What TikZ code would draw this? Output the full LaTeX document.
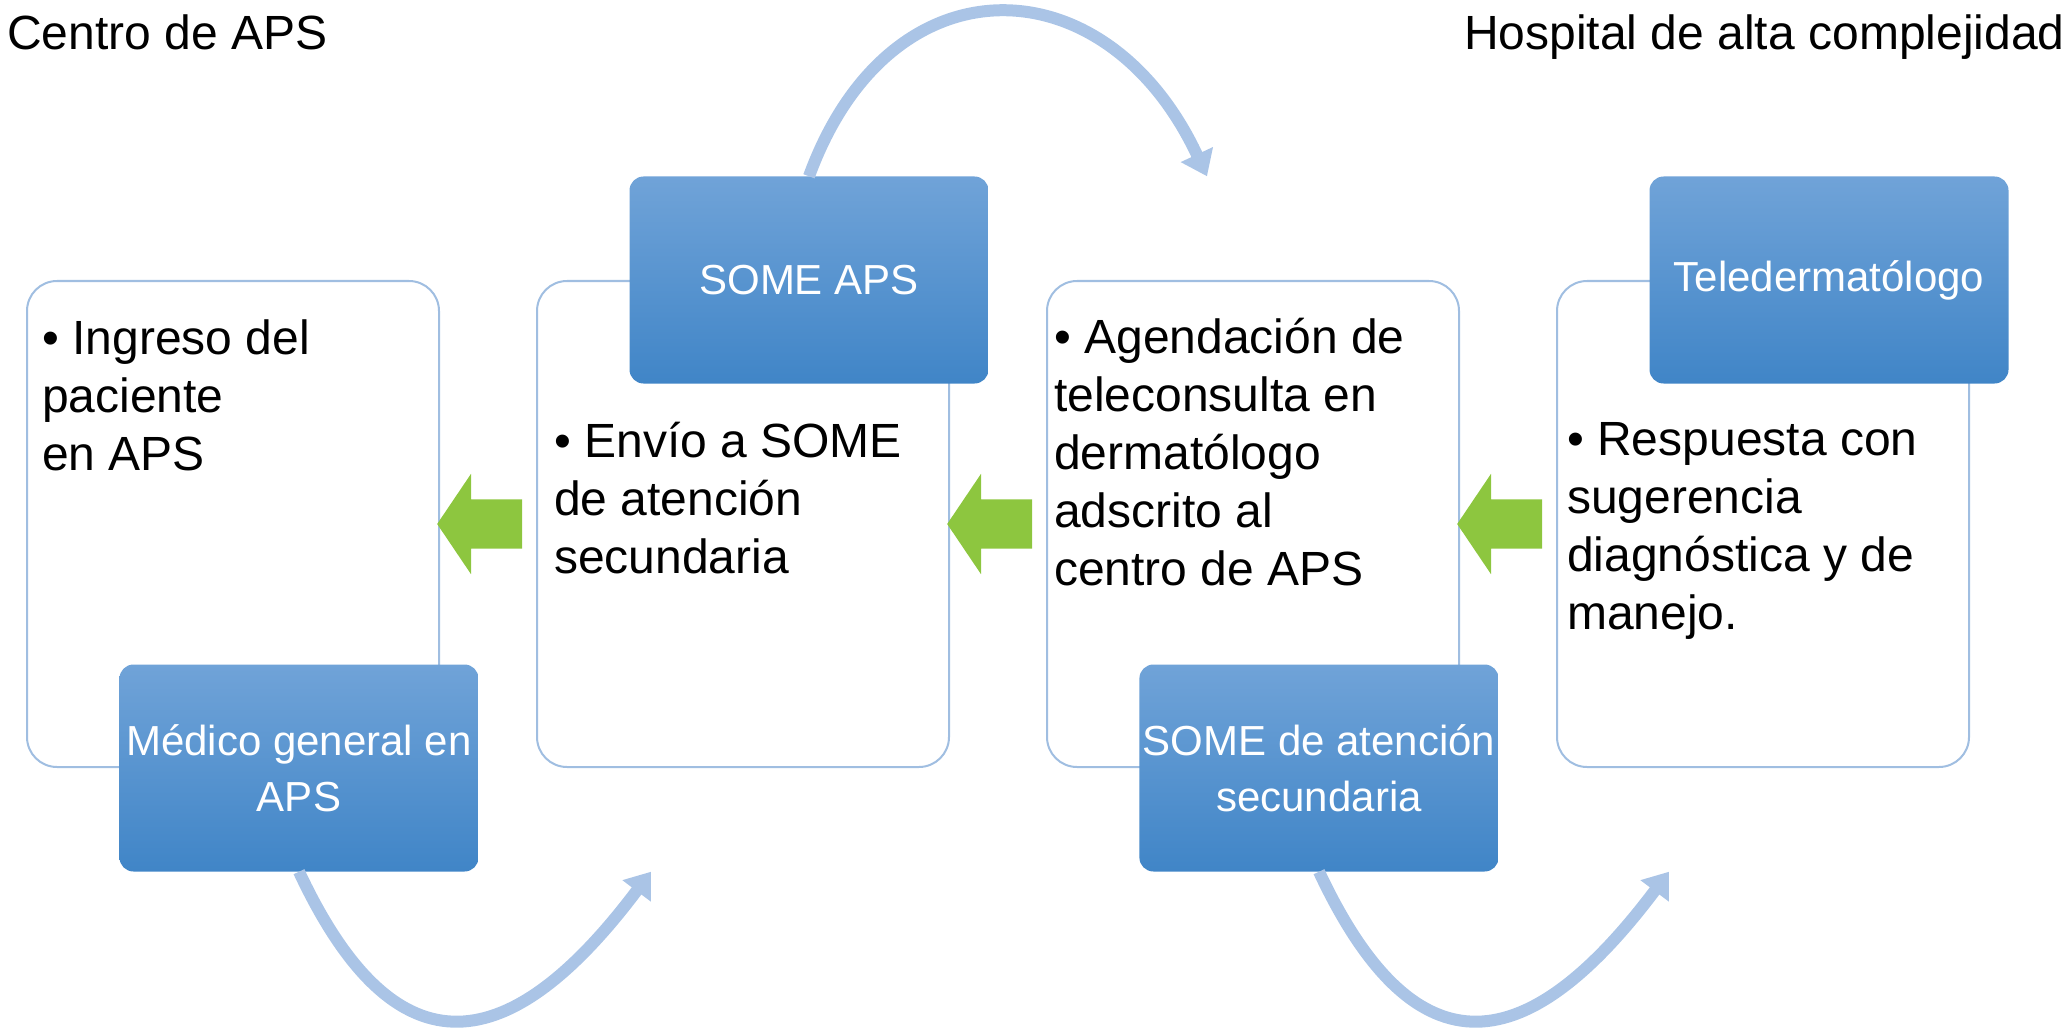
\documentclass[tikz,border=0pt]{standalone}
\usepackage{fontspec}
\setmainfont{Liberation Sans}
\usepackage{tikz}
\usetikzlibrary{shapes.arrows, arrows.meta, positioning, calc}

\definecolor{boxline}{RGB}{160,190,225}
\definecolor{bluetop}{RGB}{112,163,216}
\definecolor{bluebot}{RGB}{64,133,199}
\definecolor{leafgreen}{RGB}{141,198,63}
\definecolor{curveblue}{RGB}{170,196,230}

\begin{document}
\begin{tikzpicture}[
  x=1pt, y=-1pt,
  node distance=96pt,
  stage/.style={rectangle, rounded corners=30pt, draw=boxline, line width=2pt, fill=white, minimum width=412pt, minimum height=486pt},
  actor/.style={rectangle, rounded corners=14pt, top color=bluetop, bottom color=bluebot, draw=none, minimum width=359pt, minimum height=207pt, align=center, text=white, font=\fontsize{42}{56}\selectfont},
  body/.style={anchor=north west, align=left, inner sep=0pt, font=\fontsize{48}{58}\selectfont},
  head/.style={anchor=base west, inner sep=0pt, font=\fontsize{48}{58}\selectfont},
  back/.style={single arrow, fill=leafgreen, draw=none, inner sep=0pt, text height=49pt, text depth=0pt, minimum height=85pt, minimum width=100pt, single arrow head extend=25.5pt, single arrow tip angle=112, shape border rotate=180},
  loop/.style={draw=curveblue, line width=12pt, -{Triangle[width=34pt,length=24pt]}}
]
\useasboundingbox (0,0) rectangle (2071,1032);

% headers
\node[head] (centro) at (7,50) {Centro de APS};
\node[head] (hospital) at (1464,50) {Hospital de alta complejidad};

% white stages
\node[stage, anchor=north west] (ingreso) at (26,280) {};
\node[stage, right=of ingreso] (envio) {};
\node[stage, right=of envio] (agenda) {};
\node[stage, right=of agenda] (respuesta) {};

\node[body] (tingreso) at ([shift={(16,40)}]ingreso.north west) {• Ingreso del\\paciente\\en APS};
\node[body] (tenvio) at ([shift={(18,142)}]envio.north west) {• Envío a SOME\\de atención\\secundaria};
\node[body] (tagenda) at ([shift={(8,38)}]agenda.north west) {• Agendación de\\teleconsulta en\\dermatólogo\\adscrito al\\centro de APS};
\node[body] (trespuesta) at ([shift={(11,142)}]respuesta.north west) {• Respuesta con\\sugerencia\\diagnóstica y de\\manejo.};

% green arrows
\node[back] (b1) at ($(ingreso.east)!0.5!(envio.west)$) {};
\node[back] (b2) at ($(envio.east)!0.5!(agenda.west)$) {};
\node[back] (b3) at ($(agenda.east)!0.5!(respuesta.west)$) {};

% blue actors
\node[actor] (medico) at ([xshift=66pt]ingreso.south) {Médico general en\\APS};
\node[actor] (someaps) at ([xshift=66pt]envio.north) {SOME APS};
\node[actor] (somesec) at ([xshift=66pt]agenda.south) {SOME de atención\\secundaria};
\node[actor] (telederm) at ([xshift=66pt]respuesta.north) {Teledermatólogo};

% curved arrows
\coordinate (tipA) at ([xshift=352pt]medico.south);
\coordinate (tipB) at ([xshift=398pt]someaps.north);
\coordinate (tipC) at ([xshift=350pt]somesec.south);

\draw[loop] (medico.south) .. controls +(98,209) and +(-139,185) .. (tipA);
\draw[loop] (someaps.north) .. controls +(81,-222) and +(-100,-214) .. (tipB);
\draw[loop] (somesec.south) .. controls +(98,209) and +(-139,185) .. (tipC);
\end{tikzpicture}
\end{document}
